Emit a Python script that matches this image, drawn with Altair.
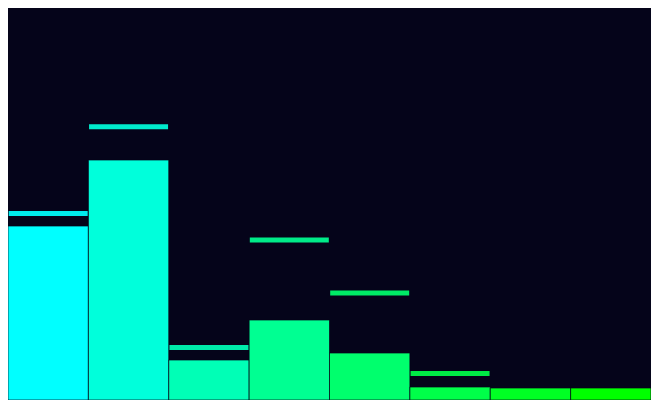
import altair as alt
import pandas as pd

categories = ["A", "B", "C", "D", "E", "F", "G", "H"]
bar_values = [43.5, 60, 10, 20, 11.75, 3.25, 3, 3]
line_values = [46.6, 68.3, 13.1, 40, 26.75, 6.6, None, None]
colors = ["#00ffff", "#00ffdb", "#00ffb6", "#00ff92", "#00ff6d", "#00ff49", "#00ff24", "#00ff00"]

BG = "#05041a"

df = pd.DataFrame({"cat": categories, "value": bar_values, "target": line_values})

x = alt.X("cat:N", sort=categories, axis=None,
          scale=alt.Scale(paddingInner=0, paddingOuter=0))
color = alt.Color("cat:N", sort=categories, legend=None,
                  scale=alt.Scale(domain=categories, range=colors))
yscale = alt.Scale(domain=[0, 98], nice=False)
y = alt.Y("value:Q", axis=None, scale=yscale)

bars = alt.Chart(df).mark_bar(stroke=BG, strokeWidth=1, strokeOpacity=0.7).encode(x=x, y=y, color=color)
ticks = alt.Chart(df).transform_filter("datum.target != null").mark_tick(
    thickness=5, size=79, opacity=0.92
).encode(x=x, y=alt.Y("target:Q", scale=yscale, axis=None), color=color)

chart = alt.layer(bars, ticks).properties(
    width=643, height=392, background=BG, padding=0, autosize="none",
).configure_view(strokeWidth=0)

chart.save("out.html", embed_options={"renderer": "svg", "actions": False})
